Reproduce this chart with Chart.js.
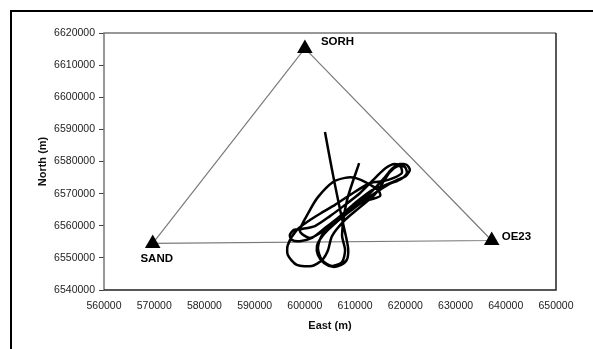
<!DOCTYPE html>
<html>
<head>
<meta charset="utf-8">
<script src="https://cdn.jsdelivr.net/npm/chart.js@4/dist/chart.umd.min.js"></script>
<style>
  html, body { margin: 0; padding: 0; background: #fff; overflow: hidden; }
  #wrap { position: relative; width: 593px; height: 349px; }
  #frame { position: absolute; left: 10px; top: 10px; width: 620px; height: 400px;
           border-left: 2px solid #000; border-top: 2px solid #000; pointer-events: none; }
</style>
</head>
<body>
<div id="wrap">
  <canvas id="myChart" width="593" height="349"></canvas>
  <div id="frame"></div>
</div>
<script>
// reference stations (UTM east / north, m)
const stationNames = ['SORH', 'SAND', 'OE23'];
const stationEast = [600000, 569700, 637200];
const stationNorth = [6615200, 6554500, 6555400];

// flight track
const trackEast = [
    604000, 605400, 606800, 607800, 608600, 608400, 607200, 605600, 603800, 602600,
    602400, 603200, 604600, 607000, 610000, 613000,
    615600, 617300, 618900, 620300, 620900, 620100, 618300, 616100,
    613400, 610000, 607000, 604000, 601400, 599000, 597400, 597000, 597800, 599400,
    602000, 605000, 608000, 611000,
    614200, 616100, 617900, 619100, 619300, 617700, 615700,
    613000, 609000, 606000, 603600, 601000, 598400, 596600, 596600, 598400, 601400,
    603400, 604600, 605400, 608000, 611000, 614000,
    616900, 618500, 619900, 620300, 619100, 616500,
    612000, 608000, 604000, 601000, 599000, 600800, 602600, 605600, 608000, 610000,
    612400, 614600, 615000, 613400, 611000, 608000, 606000, 603400, 602600, 603400,
    605400, 607400, 608000, 607400, 608400, 610800
];
const trackNorth = [
    6589200, 6577400, 6566500, 6559300, 6553100, 6549600, 6547800, 6547200, 6548400, 6550900,
    6553700, 6556200, 6558700, 6562100, 6566100, 6570200,
    6574500, 6577700, 6579200, 6578900, 6577400, 6575500, 6574200, 6572700,
    6571100, 6567100, 6563000, 6559300, 6556200, 6555200, 6555600, 6557100, 6558700, 6559000,
    6559900, 6563000, 6566500, 6570200,
    6575200, 6578000, 6579200, 6578300, 6576400, 6574900, 6573900,
    6573300, 6569600, 6566500, 6564300, 6561800, 6558700, 6554000, 6550900, 6547800, 6547500,
    6549300, 6552400, 6556800, 6561800, 6565800, 6569900,
    6576700, 6578600, 6578300, 6576400, 6574500, 6572700,
    6568000, 6563300, 6558700, 6556200, 6558400, 6564300, 6568900, 6573600, 6574900, 6574900,
    6573300, 6571100, 6569300, 6568300, 6567400, 6564000, 6561200, 6557100, 6553100, 6549300,
    6547500, 6548700, 6552400, 6557100, 6568000, 6579500
];

const eastTicks = [560000, 570000, 580000, 590000, 600000, 610000, 620000, 630000, 640000, 650000];
const northTicks = [6540000, 6550000, 6560000, 6570000, 6580000, 6590000, 6600000, 6610000, 6620000];

// label placement next to each station marker (px)
const labelOffsets = [
    { dx: 16, dy: -7, align: 'left' },
    { dx: 4, dy: 15, align: 'center' },
    { dx: 10, dy: -4, align: 'left' }
];

const stationPoints = stationEast.map((e, i) => ({ x: e, y: stationNorth[i] }));
const trianglePoints = [stationPoints[1], stationPoints[0], stationPoints[2], stationPoints[1]];
const trackPoints = trackEast.map((e, i) => ({ x: e, y: trackNorth[i] }));

const fontFamily = '"Liberation Sans", Arial, sans-serif';

const extras = {
    id: 'extras',
    afterDraw(chart) {
        const ctx = chart.ctx;
        const a = chart.chartArea;
        ctx.save();
        // plot area box
        ctx.lineWidth = 1.5;
        ctx.strokeStyle = '#777';
        ctx.beginPath();
        ctx.moveTo(a.left, a.bottom);
        ctx.lineTo(a.left, a.top);
        ctx.lineTo(a.right, a.top);
        ctx.stroke();
        ctx.strokeStyle = '#222';
        ctx.beginPath();
        ctx.moveTo(a.right, a.top);
        ctx.lineTo(a.right, a.bottom);
        ctx.lineTo(a.left, a.bottom);
        ctx.stroke();
        // station names
        ctx.fillStyle = '#000';
        ctx.font = 'bold 11.5px ' + fontFamily;
        ctx.textBaseline = 'middle';
        stationNames.forEach((name, i) => {
            const px = chart.scales.x.getPixelForValue(stationEast[i]);
            const py = chart.scales.y.getPixelForValue(stationNorth[i]);
            ctx.textAlign = labelOffsets[i].align;
            ctx.fillText(name, px + labelOffsets[i].dx, py + labelOffsets[i].dy);
        });
        ctx.restore();
    }
};

const ctx = document.getElementById('myChart').getContext('2d');

new Chart(ctx, {
    type: 'scatter',
    data: {
        datasets: [
            {
                label: 'Stations',
                data: stationPoints,
                pointStyle: 'triangle',
                pointRadius: 9,
                backgroundColor: '#000',
                borderColor: '#000',
                borderWidth: 0,
                showLine: false
            },
            {
                label: 'Track',
                data: trackPoints,
                showLine: true,
                borderColor: '#000',
                borderWidth: 2.5,
                tension: 0.25,
                pointRadius: 0
            },
            {
                label: 'Baselines',
                data: trianglePoints,
                showLine: true,
                borderColor: '#7a7a7a',
                borderWidth: 1.2,
                tension: 0,
                pointRadius: 0
            }
        ]
    },
    options: {
        responsive: false,
        animation: false,
        devicePixelRatio: 1,
        layout: { padding: { left: 30, top: 33, right: 37, bottom: 0 } },
        plugins: {
            legend: { display: false },
            tooltip: { enabled: false }
        },
        scales: {
            x: {
                type: 'linear',
                min: eastTicks[0],
                max: eastTicks[eastTicks.length - 1],
                afterBuildTicks: s => { s.ticks = eastTicks.map(v => ({ value: v })); },
                afterFit: s => { s.height = 59; },
                grid: { display: true, drawOnChartArea: false, drawTicks: false },
                border: { display: false },
                ticks: {
                    padding: 10,
                    color: '#222',
                    font: { family: fontFamily, size: 10.5 },
                    callback: v => String(v),
                    maxRotation: 0,
                    autoSkip: false
                },
                title: {
                    display: true,
                    text: 'East (m)',
                    color: '#111',
                    font: { family: fontFamily, size: 11, weight: 'bold' },
                    padding: { top: 0, bottom: 16 }
                }
            },
            y: {
                type: 'linear',
                min: northTicks[0],
                max: northTicks[northTicks.length - 1],
                afterBuildTicks: s => { s.ticks = northTicks.map(v => ({ value: v })); },
                afterFit: s => { s.width = 74; },
                grid: {
                    display: true,
                    drawOnChartArea: false,
                    drawTicks: true,
                    tickLength: 5,
                    tickColor: '#444',
                    tickWidth: 1
                },
                border: { display: false },
                ticks: {
                    padding: 4,
                    color: '#222',
                    font: { family: fontFamily, size: 10.5 },
                    callback: v => String(v),
                    autoSkip: false
                },
                title: {
                    display: true,
                    text: 'North (m)',
                    color: '#111',
                    font: { family: fontFamily, size: 11, weight: 'bold' },
                    padding: { top: 6, bottom: 0 }
                }
            }
        }
    },
    plugins: [extras]
});
</script>
</body>
</html>
